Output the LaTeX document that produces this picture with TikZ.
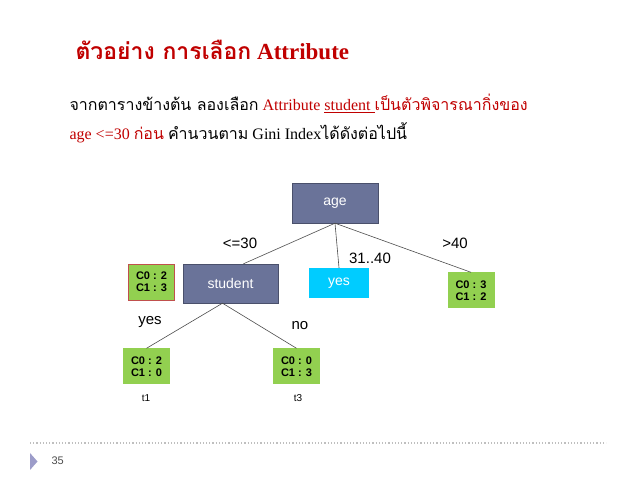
\documentclass[tikz,border=0pt]{standalone}
\usepackage{fontspec}
\setmainfont{Liberation Serif}
\newfontfamily\thai[Script=Thai]{Loma}
\newfontfamily\arialfont{Liberation Sans}
\usetikzlibrary{positioning}
\definecolor{titlered}{HTML}{C00000}
\definecolor{slate}{HTML}{6A7399}
\definecolor{skyblue}{HTML}{00CCFF}
\definecolor{leafgreen}{HTML}{92D050}
\definecolor{boxred}{HTML}{C0504D}
\tikzset{
	attrbox/.style = {draw=slate!70!black, fill=slate, text=white, font=\arialfont\fontsize{14}{16}\selectfont, minimum width=95pt, minimum height=39pt, inner sep=0pt},
	leafbox/.style = {fill=leafgreen, font=\arialfont\bfseries\fontsize{11}{12}\selectfont, align=center, minimum width=47pt, minimum height=36pt, inner sep=0pt},
	edgelabel/.style = {font=\arialfont\fontsize{15}{16}\selectfont},
	edge/.style = {draw=black!70, line width=0.6pt}
}
\begin{document}
\begin{tikzpicture}[x=1pt, y=-1pt]
	\useasboundingbox (0,0) rectangle (638,478);
	% title and text
	\node[anchor=west, text=titlered, font=\bfseries\fontsize{23}{26}\selectfont] (title) at (72,50) {{\thai ตัวอย่าง การเลือก} Attribute};
	\node[anchor=west, font=\fontsize{16}{18}\selectfont] (line1) at (66,103) {{\thai จากตารางข้างต้น ลองเลือก} \textcolor{titlered}{Attribute \underline{student }{\thai เป็นตัวพิจารณากิ่งของ}}};
	\node[anchor=west, font=\fontsize{16}{18}\selectfont] (line2) at (66,133) {\textcolor{titlered}{age <=30 {\thai ก่อน}} {\thai คำนวนตาม} Gini Index{\thai ได้ดังต่อไปนี้}};
	% tree
	\node[attrbox, minimum width=86pt, minimum height=40pt] (age) at (335,203) {age};
	\node[attrbox] (student) at (230.5,283.5) {student};
	\node[attrbox, draw=none, fill=skyblue, minimum width=60pt, minimum height=30pt] (yes) at (339,283) {yes};
	\node[leafbox, draw=boxred, minimum width=46pt] (root) at (151.5,282) {C0 : 2\\C1 : 3};
	\node[leafbox] (right) at (471,290.5) {C0 : 3\\C1 : 2};
	\node[leafbox] (t1) at (146.5,366.5) {C0 : 2\\C1 : 0};
	\node[leafbox] (t3) at (296.5,366.5) {C0 : 0\\C1 : 3};
	\draw[edge] (age.south) -- ([xshift=13pt]student.north);
	\draw[edge] (age.south) -- (yes.north);
	\draw[edge] (age.south) -- (right.north);
	\draw[edge] ([xshift=-8pt]student.south) -- (t1.north);
	\draw[edge] ([xshift=-8pt]student.south) -- (t3.north);
	\node[edgelabel] (lbla) at (240,243) {<=30};
	\node[edgelabel] (lblb) at (370,258) {31..40};
	\node[edgelabel] (lblc) at (455,243) {>40};
	\node[edgelabel] (lbld) at (150,322) {yes};
	\node[edgelabel] (lble) at (300,326) {no};
	\node[font=\arialfont\fontsize{10}{12}\selectfont] (n1) at (146,398) {t1};
	\node[font=\arialfont\fontsize{10}{12}\selectfont] (n3) at (298,398) {t3};
	% footer
	\draw[black!25, line width=1.2pt, dotted] (30,443) -- (606,443);
	\fill[blue!30!gray!60] (30,453) -- (37.5,461.5) -- (30,470) -- cycle;
	\node[anchor=west, text=black!70, font=\arialfont\fontsize{11}{12}\selectfont] (page) at (48,461) {35};
\end{tikzpicture}
\end{document}
